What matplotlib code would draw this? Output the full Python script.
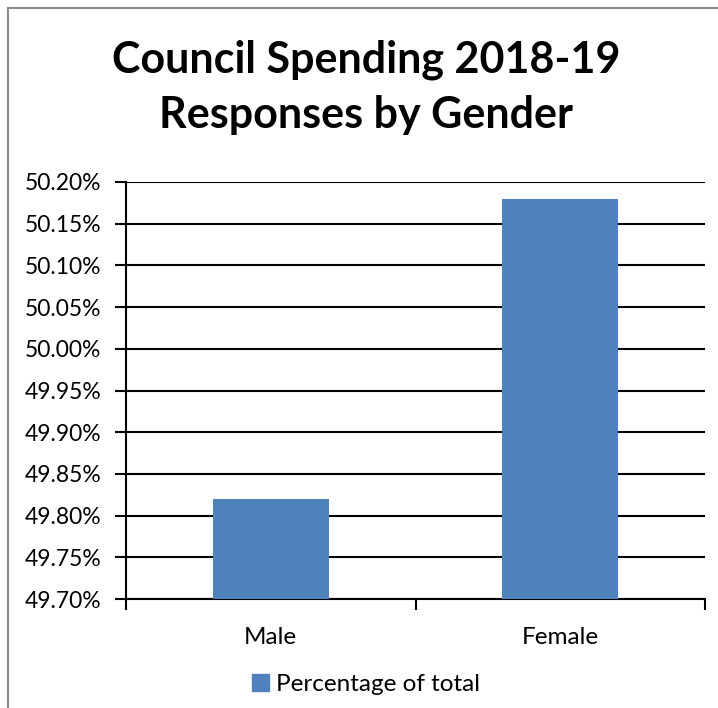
import matplotlib.pyplot as plt
import matplotlib.patches as mpatches
from matplotlib.ticker import FuncFormatter, FixedLocator

categories = ['Male', 'Female']
percentages = [49.82, 50.18]
series_name = 'Percentage of total'
title = 'Council Spending 2018-19\nResponses by Gender'
y_ticks = [49.70, 49.75, 49.80, 49.85, 49.90, 49.95, 50.00, 50.05, 50.10, 50.15, 50.20]

bar_color = '#4f81bd'
plt.rcParams['font.family'] = ['Lato', 'DejaVu Sans']

fig = plt.figure(figsize=(7.18, 7.08), dpi=100)
ax = fig.add_axes([126 / 718, 109 / 708, 579 / 718, 417 / 708])

# chart border (gray frame round the chart area)
fig.patches.append(mpatches.Rectangle((8 / 718, -0.01), 1.0, 1.0 - 8 / 708 + 0.01,
                                      transform=fig.transFigure, fill=False,
                                      edgecolor='#8c8c8c', linewidth=1.5))

x = list(range(len(categories)))
ax.bar(x, percentages, width=0.4, color=bar_color, zorder=3, label=series_name)

ax.set_xlim(-0.5, len(categories) - 0.5)
ax.set_ylim(y_ticks[0], y_ticks[-1])
ax.yaxis.set_major_locator(FixedLocator(y_ticks))
ax.yaxis.set_major_formatter(FuncFormatter(lambda v, p: f'{v:.2f}%'))
ax.grid(axis='y', color='black', linewidth=1.5, zorder=0)

# category labels centred, tick marks at category boundaries
ax.set_xticks([i - 0.5 for i in range(len(categories) + 1)])
ax.set_xticklabels([])
ax.set_xticks(x, minor=True)
ax.set_xticklabels(categories, minor=True)
ax.tick_params(axis='x', which='minor', length=0, pad=20, labelsize=17.5)
ax.tick_params(axis='x', which='major', length=8, width=1.5, direction='out')
ax.tick_params(axis='y', length=8, width=1.5, direction='out', labelsize=16.5, pad=10)

for s in ['top', 'right']:
    ax.spines[s].set_visible(False)
for s in ['left', 'bottom']:
    ax.spines[s].set_linewidth(1.5)

fig.text(0.51, 0.915, title.split('\n')[0], ha='center', va='center',
         fontsize=31, fontweight='bold')
fig.text(0.51, 0.838, title.split('\n')[1], ha='center', va='center',
         fontsize=31, fontweight='bold')

fig.legend(handles=[mpatches.Patch(color=bar_color, label=series_name)],
           loc='center', bbox_to_anchor=(0.51, 0.033), frameon=False,
           fontsize=17.5, handlelength=0.7, handleheight=0.7, handletextpad=0.3)

fig.savefig('out.png', dpi=100)
